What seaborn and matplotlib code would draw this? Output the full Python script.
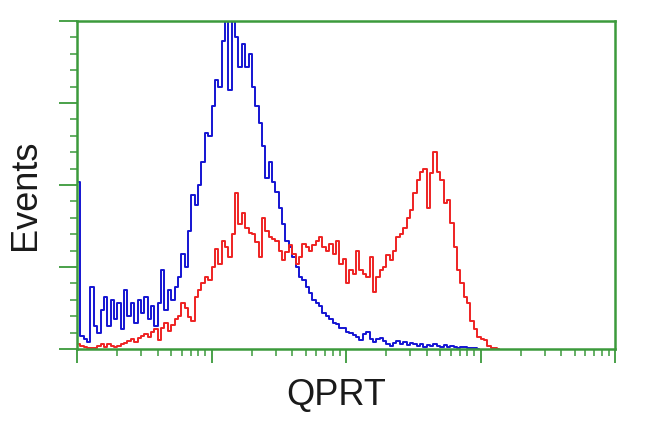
import matplotlib
matplotlib.use("Agg")
import matplotlib.pyplot as plt
import matplotlib.ticker as mticker
import numpy as np
import pandas as pd
import seaborn as sns

# histogram counts, one value per channel (40 channels per decade, starting at 10^0)
blue_counts = [
  51, 4, 3, 2, 19, 7, 5, 12, 16, 7,
  15, 9, 14, 6, 18, 10, 14, 8, 15, 11,
  16, 9, 13, 7, 14, 24, 12, 18, 15, 19,
  22, 29, 25, 36, 47, 44, 50, 57, 66, 65,
  74, 82, 80, 94, 104, 79, 103, 95, 86, 93,
  86, 90, 80, 74, 69, 62, 52, 57, 51, 48,
  43, 38, 33, 31, 28, 25, 22, 21, 19, 17,
  15, 14, 13, 11, 10, 9, 8, 7.5, 6.4, 6.5,
  5.2, 4.8, 4.2, 3.6, 2.7, 4.5, 5.2, 3.0, 2.1, 3.0,
  3.4, 2.4, 1.6, 0.9, 1.8, 2.5, 1.5, 2.2, 1.2, 1.9,
  1.4, 0.8, 1.5, 0.7, 1.3, 1.0, 1.6, 0.8, 0.6, 1.2,
  0.5, 0.8, 0.6, 0.4, 0.7, 0.5, 0.4, 0.3, 0.3, 0.1,
]

red_counts = [
  1.5, 0.8, 0.6, 0.3, 0.2, 0.4, 0.9, 1.4, 0.7, 1.5,
  0.9, 0.5, 1.0, 1.6, 1.8, 2.4, 3.0, 2.2, 3.5, 4.0,
  4.6, 3.8, 5.2, 6.0, 2.8, 6.5, 8.0, 5.5, 7.4, 9.0,
  10.0, 14.0, 12.5, 9.8, 8.5, 16.0, 18.0, 20.0, 22.0, 21.0,
  25.0, 30.5, 26.0, 33.0, 31.0, 28.0, 35.0, 47.5, 38.0, 41.5,
  37.0, 35.5, 35.0, 32.6, 28.0, 40.0, 36.0, 34.0, 33.5, 33.0,
  30.0, 27.0, 29.6, 31.7, 29.0, 26.0, 28.0, 32.0, 31.0, 30.0,
  31.7, 33.0, 34.0, 31.0, 30.0, 32.0, 29.0, 33.0, 26.0, 27.5,
  20.0, 24.0, 23.0, 30.0, 24.0, 23.0, 22.0, 28.0, 17.4, 22.0,
  24.0, 25.0, 28.7, 27.0, 30.0, 34.0, 35.0, 37.0, 40.0, 42.4,
  47.5, 51.5, 54.0, 55.0, 43.0, 53.7, 60.0, 54.0, 51.5, 44.5,
  45.5, 38.4, 31.0, 24.0, 20.0, 16.0, 14.0, 8.5, 6.0, 3.7,
  3.2, 2.7, 1.0, 0.4, 0.2, 0.1,
]

x_label = "QPRT"
y_label = "Events"

step = 0.025  # decades per channel


def channel_df(counts):
  n = len(counts)
  return pd.DataFrame({
    "fl": 10 ** ((np.arange(n) + 0.5) * step),
    "count": counts,
  })


df_blue = channel_df(blue_counts)
df_red = channel_df(red_counts)

sns.set_style("white")
plt.rcParams['font.family'] = ['Liberation Sans', 'DejaVu Sans']

green = '#3c9a3c'

fig = plt.figure(figsize=(6.5, 4.32), dpi=100)
ax = fig.add_axes([77 / 650, 1 - 349 / 432, 538 / 650, 328 / 432])

sns.lineplot(data=df_blue, x="fl", y="count", ax=ax, color='#1414d2',
             linewidth=1.4, drawstyle='steps-mid', estimator=None)
sns.lineplot(data=df_red, x="fl", y="count", ax=ax, color='#ee2222',
             linewidth=1.4, drawstyle='steps-mid', estimator=None)

ax.set_xscale('log')
ax.set_xlim(1, 1e4)
ax.set_ylim(0, 100)

ax.xaxis.set_major_locator(mticker.LogLocator(base=10, numticks=10))
ax.xaxis.set_minor_locator(mticker.LogLocator(base=10, subs=np.arange(2, 10), numticks=20))
ax.yaxis.set_major_locator(mticker.MultipleLocator(25))
ax.yaxis.set_minor_locator(mticker.MultipleLocator(5))

for s in ax.spines.values():
  s.set_color(green)
  s.set_linewidth(1.8)

ax.tick_params(axis='both', which='both', direction='out', colors=green,
               labelbottom=False, labelleft=False, bottom=True, left=True)
ax.tick_params(axis='x', which='major', length=10, width=1.3)
ax.tick_params(axis='x', which='minor', length=5, width=1.1)
ax.tick_params(axis='y', which='major', length=13, width=1.3)
ax.tick_params(axis='y', which='minor', length=5, width=1.1)

ax.set_xlabel(x_label, fontsize=26, color='#1a1a1a')
ax.set_ylabel(y_label, fontsize=26, color='#1a1a1a')
ax.xaxis.label.set_va('center')
ax.yaxis.label.set_va('center')
ax.xaxis.set_label_coords((336 - 77) / 538, (349 - 395) / 328)
ax.yaxis.set_label_coords((25 - 77) / 538, (349 - 195) / 328)

fig.savefig('out.png', dpi=100)
